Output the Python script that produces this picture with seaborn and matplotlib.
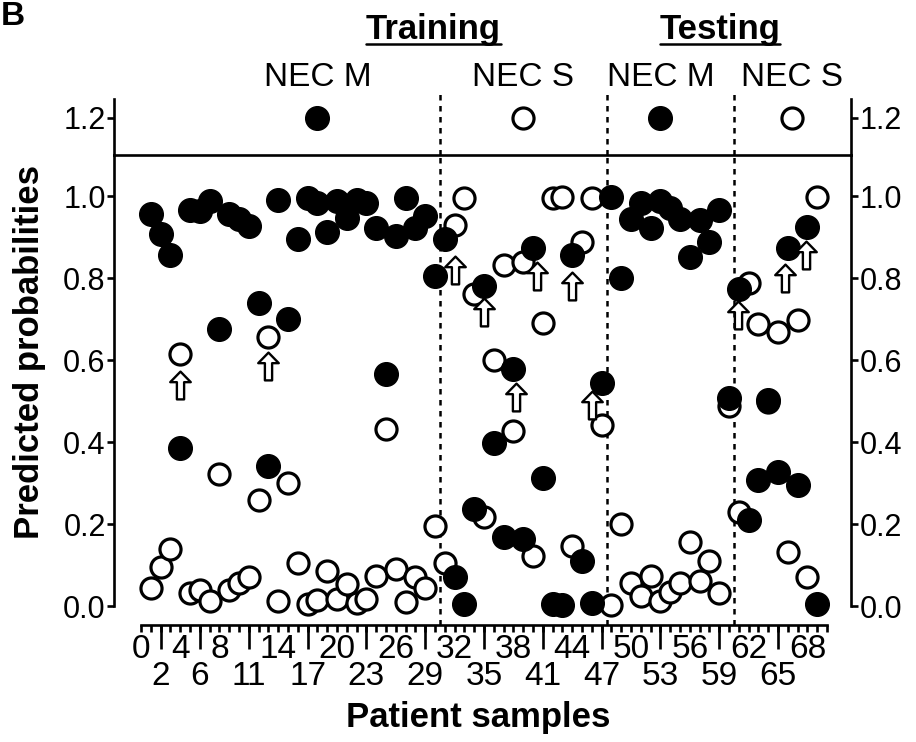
import numpy as np
import pandas as pd
import matplotlib
matplotlib.use("Agg")
import matplotlib.pyplot as plt
from matplotlib.path import Path
from matplotlib.lines import Line2D
import seaborn as sns

# ---- data -------------------------------------------------------------
samples = list(range(1, 70))

# predicted probability of NEC M (filled) and NEC S (open) per sample
prob_m = [0.956, 0.908, 0.855, 0.385, 0.966, 0.964, 0.989, 0.675, 0.957, 0.944,
          0.927, 0.739, 0.341, 0.990, 0.700, 0.896, 0.994, 0.982, 0.912, 0.988,
          0.947, 0.990, 0.982, 0.923, 0.567, 0.903, 0.994, 0.923, 0.952, 0.806,
          0.896, 0.070, 0.004, 0.237, 0.781, 0.397, 0.168, 0.577, 0.164, 0.872,
          0.311, 0.004, 0.002, 0.855, 0.110, 0.008, 0.544, 0.998, 0.800, 0.945,
          0.982, 0.923, 0.989, 0.970, 0.945, 0.851, 0.941, 0.888, 0.966, 0.507,
          0.773, 0.210, 0.307, 0.503, 0.327, 0.872, 0.295, 0.925, 0.004]
prob_s = [0.045, 0.094, 0.139, 0.614, 0.031, 0.038, 0.011, 0.323, 0.038, 0.055,
          0.070, 0.259, 0.655, 0.011, 0.301, 0.106, 0.004, 0.014, 0.086, 0.016,
          0.053, 0.008, 0.016, 0.072, 0.431, 0.090, 0.010, 0.070, 0.045, 0.195,
          0.106, 0.929, 0.994, 0.761, 0.217, 0.600, 0.832, 0.426, 0.840, 0.123,
          0.690, 0.996, 0.998, 0.147, 0.888, 0.994, 0.442, 0.002, 0.200, 0.056,
          0.025, 0.074, 0.012, 0.033, 0.056, 0.155, 0.061, 0.110, 0.031, 0.487,
          0.229, 0.788, 0.687, 0.498, 0.669, 0.131, 0.698, 0.070, 0.998]

# group separators (training M | training S | testing M | testing S)
group_bounds = [30.5, 47.5, 60.5]
group_labels = ["NEC M", "NEC S", "NEC M", "NEC S"]
group_key_x = [18, 39, 53, 66.4]
group_key_filled = [True, False, True, False]
key_y = 1.2

# flagged (misclassified) samples, marked by hollow arrows
arrow_x = [4, 13, 32, 35, 38.3, 40.4, 44, 46, 60.9, 65.7, 67.9]
arrow_y = [0.54, 0.585, 0.82, 0.716, 0.51, 0.806, 0.78, 0.49, 0.71, 0.80, 0.857]

row1_ticks = [0, 4, 8, 14, 20, 26, 32, 38, 44, 50, 56, 62, 68]
row2_ticks = [2, 6, 11, 17, 23, 29, 35, 41, 47, 53, 59, 65]
y_ticks = [0.0, 0.2, 0.4, 0.6, 0.8, 1.0]
y_ticks_top = [1.2]

# ---- style ------------------------------------------------------------
sns.set_style("ticks")
plt.rcParams['font.family'] = ['Liberation Sans', 'DejaVu Sans']
for k in ["text.color", "axes.labelcolor", "xtick.color", "ytick.color",
          "axes.edgecolor"]:
    plt.rcParams[k] = "black"
FS = 22
FS_X = 24
FS_LAB = 25
LW = 1.9
NARROW = ["Liberation Sans Narrow", "Liberation Sans"]

W, H = 916, 742
X0, X1 = 114, 851          # left / right spine (px)
Y_BASE, Y_BREAK, Y_TOP = 606, 155, 99
XLIM = (-2.76, 72.45)

fig = plt.figure(figsize=(W / 100, H / 100), dpi=100)
ax = fig.add_axes([X0 / W, (H - Y_BASE) / H, (X1 - X0) / W, (Y_BASE - Y_BREAK) / H])
ax_top = fig.add_axes([X0 / W, (H - Y_BREAK) / H, (X1 - X0) / W, (Y_BREAK - Y_TOP) / H])
ax_top.patch.set_visible(False)

df = pd.DataFrame({"sample": samples, "prob_m": prob_m, "prob_s": prob_s})

S_FILL, S_OPEN = 290, 230
sns.scatterplot(data=df, x="sample", y="prob_s", color="white", edgecolor="black",
                s=S_OPEN, linewidth=2.3, ax=ax, clip_on=False, zorder=4, legend=False)
sns.scatterplot(data=df, x="sample", y="prob_m", color="black", edgecolor="black",
                s=S_FILL, linewidth=1, ax=ax, clip_on=False, zorder=5, legend=False)

# hollow up-arrow marker
arrow_path = Path([(0, 0.5), (0.37, 0.12), (0.13, 0.12), (0.13, -0.5),
                   (-0.13, -0.5), (-0.13, 0.12), (-0.37, 0.12), (0, 0.5)],
                  [Path.MOVETO] + [Path.LINETO] * 6 + [Path.CLOSEPOLY])
ax.scatter(arrow_x, arrow_y, marker=arrow_path, s=400, facecolor="white",
           edgecolor="black", linewidth=1.7, zorder=6, clip_on=False)

# ---- top strip with the group key -------------------------------------
key = pd.DataFrame({"x": group_key_x, "y": [key_y] * 4, "filled": group_key_filled})
sns.scatterplot(data=key[key.filled], x="x", y="y", color="black", edgecolor="black",
                s=S_FILL, linewidth=1, ax=ax_top, clip_on=False, zorder=5, legend=False)
sns.scatterplot(data=key[~key.filled], x="x", y="y", color="white", edgecolor="black",
                s=S_OPEN, linewidth=2.3, ax=ax_top, clip_on=False, zorder=5, legend=False)
for gx, lab in zip(group_key_x, group_labels):
    ax_top.text(gx, 1.308, lab, ha="center", va="center", fontsize=FS_X)

# dashed separators through both panels
ax.vlines(group_bounds, -0.046, 1.1, colors="black", linestyles=(0, (2.2, 2.2)),
          linewidth=1.8, clip_on=False, zorder=3)
ax_top.vlines(group_bounds, 1.1, 1.275, colors="black", linestyles=(0, (2.2, 2.2)),
              linewidth=1.8, clip_on=False, zorder=3)

# ---- axes limits and spines --------------------------------------------
for a in (ax, ax_top):
    a.set_xlim(*XLIM)
    a.set_xlabel("")
    a.set_ylabel("")
    for side in ["left", "right", "top", "bottom"]:
        a.spines[side].set_linewidth(LW)
        a.spines[side].set_zorder(7)
ax.set_ylim(0, 1.1)
ax_top.set_ylim(1.1, 1.251)
ax_top.spines["top"].set_visible(False)
ax_top.spines["bottom"].set_visible(False)
ax_top.set_xticks([])
ax.spines["bottom"].set_position(("outward", 13.7))
ax.spines["bottom"].set_bounds(0, 70)

# y axis on both sides
ax.set_yticks(y_ticks)
ax.set_yticklabels([f"{v:.1f}" for v in y_ticks])
ax_top.set_yticks(y_ticks_top)
ax_top.set_yticklabels([f"{v:.1f}" for v in y_ticks_top])
for a in (ax, ax_top):
    a.tick_params(axis="y", which="both", left=True, right=True, labelleft=True,
                  labelright=True, direction="out", length=5, width=LW,
                  labelsize=FS, pad=1)

# x axis: minor ticks every sample, first row of labels
ax.set_xticks(np.arange(0, 71), minor=True)
ax.set_xticks(row1_ticks)
ax.set_xticklabels([str(t) for t in row1_ticks])
ax.tick_params(axis="x", which="both", direction="out", width=LW)
ax.tick_params(axis="x", which="minor", length=5)
ax.tick_params(axis="x", which="major", length=5, labelsize=FS_X, pad=1.5)
for lbl in ax.get_xticklabels():
    lbl.set_fontfamily(NARROW)

# second row of labels under long ticks
sec = ax.secondary_xaxis(-19 / (Y_BASE - Y_BREAK))
sec.spines["bottom"].set_visible(False)
sec.set_xticks(row2_ticks)
sec.set_xticklabels([str(t) for t in row2_ticks])
sec.xaxis.set_minor_locator(matplotlib.ticker.NullLocator())
sec.tick_params(axis="x", direction="out", length=17.5, width=LW,
                labelsize=FS_X, pad=8.5)
for lbl in sec.get_xticklabels():
    lbl.set_fontfamily(NARROW)

fig.text(30 / W, 1 - 352 / H, "Predicted probabilities", ha="center", va="center",
         rotation=90, fontsize=FS_LAB, fontweight="bold")
fig.text(478 / W, 1 - 718 / H, "Patient samples", ha="center", va="center",
         fontsize=FS_LAB, fontweight="bold")

# section headings with underline
fig.canvas.draw()
renderer = fig.canvas.get_renderer()
for txt, cx in [("Training", 433), ("Testing", 720)]:
    t = fig.text(cx / W, 1 - 29 / H, txt, ha="center", va="center",
                 fontsize=FS_LAB, fontweight="bold", fontfamily=NARROW)
    bb = t.get_window_extent(renderer)
    uy = (H - 44) / H
    fig.add_artist(Line2D([bb.x0 / W, bb.x1 / W], [uy, uy], color="black",
                          linewidth=1.8, transform=fig.transFigure))

fig.text(0.001, 0.999, "B", ha="left", va="top", fontsize=24, fontweight="bold")

fig.savefig("out.png", dpi=100)
